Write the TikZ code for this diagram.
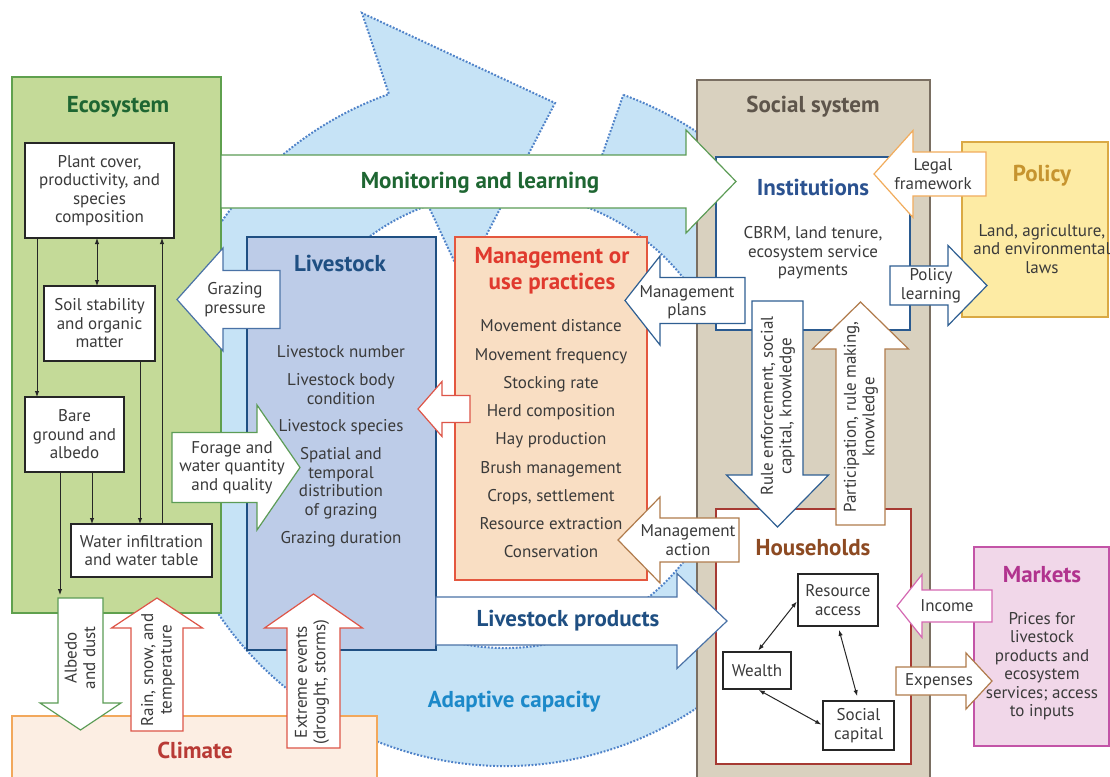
\documentclass[tikz,border=0pt]{standalone}
\usepackage{fontspec}
\setmainfont{PT Sans}
\usetikzlibrary{arrows.meta,calc}
\definecolor{ringfill}{HTML}{C6E3F6}
\definecolor{ringline}{HTML}{4F82C8}
\definecolor{ecofill}{HTML}{C4DA98}
\definecolor{ecoline}{HTML}{5FA04E}
\definecolor{ecotitle}{HTML}{1E6632}
\definecolor{livfill}{HTML}{BDCCE8}
\definecolor{livline}{HTML}{1F4F82}
\definecolor{mgfill}{HTML}{F9DEC3}
\definecolor{mgline}{HTML}{E4573F}
\definecolor{mgtitle}{HTML}{E03A2E}
\definecolor{socfill}{HTML}{D9D1BF}
\definecolor{socline}{HTML}{7A6F62}
\definecolor{soctitle}{HTML}{5E554B}
\definecolor{instline}{HTML}{2A5A90}
\definecolor{insttitle}{HTML}{2B5290}
\definecolor{polfill}{HTML}{FDEBA4}
\definecolor{polline}{HTML}{DAA944}
\definecolor{poltitle}{HTML}{C6942F}
\definecolor{hhline}{HTML}{A63A33}
\definecolor{hhtitle}{HTML}{8D4A22}
\definecolor{mkfill}{HTML}{F1D7E9}
\definecolor{mkline}{HTML}{C354A7}
\definecolor{mktitle}{HTML}{B1338E}
\definecolor{clfill}{HTML}{FCEEE3}
\definecolor{clline}{HTML}{F2A85C}
\definecolor{cltitle}{HTML}{B83A35}
\definecolor{txtc}{HTML}{3A3A3A}
\definecolor{adapt}{HTML}{1C89C9}
\definecolor{agreen}{HTML}{5C9C56}
\definecolor{ablue}{HTML}{4A72A6}
\definecolor{adblue}{HTML}{2F5F92}
\definecolor{ared}{HTML}{DD5548}
\definecolor{abrown}{HTML}{B07B4C}
\definecolor{aorange}{HTML}{F1AC5C}
\definecolor{apink}{HTML}{D468B2}
\newcommand\fsN{\fontsize{17}{18.5}\selectfont}
\newcommand\fsT{\fontsize{23}{26}\selectfont\bfseries}
% horizontal block arrow: style, x tail, x head-back, x tip, y centre, body half, head half
\newcommand\blockH[7]{\draw[barrow,#1] ({#2},{#5-#6}) -- ({#3},{#5-#6}) -- ({#3},{#5-#7}) -- ({#4},{#5}) -- ({#3},{#5+#7}) -- ({#3},{#5+#6}) -- ({#2},{#5+#6}) -- cycle;}
% vertical block arrow: style, y tail, y head-back, y tip, x centre, body half, head half
\newcommand\blockV[7]{\draw[barrow,#1] ({#5-#6},{#2}) -- ({#5-#6},{#3}) -- ({#5-#7},{#3}) -- ({#5},{#4}) -- ({#5+#7},{#3}) -- ({#5+#6},{#3}) -- ({#5+#6},{#2}) -- cycle;}
\tikzset{
 box/.style={draw, line width=1.4pt, anchor=north west, inner sep=0pt, outer sep=0pt},
 wbox/.style={box, fill=white, draw=black!85, line width=1.3pt},
 txt/.style={font=\fsN, align=center, text=txtc, inner sep=0pt},
 ttl/.style={font=\fsT, align=center, inner sep=0pt},
 barrow/.style={fill=white, line width=1.2pt, line join=miter},
 ecoarr/.style={line width=1pt, draw=black!85, -{Latex[length=6pt,width=4.5pt]}},
 ecoarrb/.style={line width=1pt, draw=black!85, {Latex[length=6pt,width=4.5pt]}-{Latex[length=6pt,width=4.5pt]}},
}
\begin{document}
\begin{tikzpicture}[x=1pt,y=-1pt]
\useasboundingbox (0,0) rectangle (1110,776);
\fill[white] (0,0) rectangle (1110,776);
% adaptive capacity ring
\coordinate (ringC) at (505,420);
\path[fill=ringfill, draw=ringline, line width=2pt, dash pattern=on 1.8pt off 1.7pt]
 (ringC) ++(-70:346) arc[start angle=-70, end angle=250.4, radius=346]
 -- (362,13) -- (555,103) -- (463,280) -- ($(ringC)+(250.3:228)$)
 arc[start angle=250.3, end angle=-69.7, radius=228] -- cycle;
\node[font=\fsT, text=adapt, inner sep=0pt] (adaptlbl) at (514,702) {Adaptive capacity};

% main boxes
\node[box, fill=ecofill, draw=ecoline, minimum width=209, minimum height=536] (eco) at (12,77) {};
\node[box, fill=clfill, draw=clline, minimum width=365, minimum height=80] (clim) at (12,716) {};
\node[box, fill=socfill, draw=socline, minimum width=233, minimum height=710] (soc) at (697,80) {};
\node[box, fill=white, draw=instline, minimum width=194, minimum height=173] (inst) at (716,157) {};
\node[box, fill=white, draw=hhline, minimum width=195, minimum height=255] (hh) at (716,509) {};
\node[box, fill=polfill, draw=polline, minimum width=146, minimum height=175] (pol) at (962,142) {};
\node[box, fill=mkfill, draw=mkline, minimum width=135, minimum height=199] (mk) at (974,547) {};
\node[box, fill=livfill, draw=livline, minimum width=189, minimum height=413] (liv) at (247,237) {};
\node[box, fill=mgfill, draw=mgline, minimum width=192, minimum height=343] (mg) at (455,237) {};

% titles
\node[ttl, text=ecotitle] (ecoT) at (118,107) {Ecosystem};
\node[ttl, text=cltitle] (clT) at (195,750) {Climate};
\node[ttl, text=soctitle] (socT) at (813,107) {Social system};
\node[ttl, text=insttitle] (instT) at (813,187) {Institutions};
\node[ttl, text=hhtitle] (hhT) at (813,548) {Households};
\node[ttl, text=poltitle] (polT) at (1042,176) {Policy};
\node[ttl, text=mktitle] (mkT) at (1042,575) {Markets};
\node[ttl, text=livline] (livT) at (340,263) {Livestock};
\node[ttl, text=mgtitle] (mgT) at (552,271) {Management or\\use practices};

% ecosystem inner boxes
\node[wbox, minimum width=149, minimum height=95] (plant) at (25,143) {};
\node[txt] (plantT) at (plant.center) {Plant cover,\\productivity, and\\species\\composition};
\node[wbox, minimum width=111, minimum height=75] (soil) at (44,286) {};
\node[txt] (soilT) at (soil.center) {Soil stability\\and organic\\matter};
\node[wbox, minimum width=99, minimum height=75] (bare) at (25,397) {};
\node[txt] (bareT) at (bare.center) {Bare\\ground and\\albedo};
\node[wbox, minimum width=141, minimum height=53] (water) at (71,524) {};
\node[txt] (waterT) at (water.center) {Water infiltration\\and water table};
\coordinate (c37) at (37,0);
\coordinate (c97) at (97,0);
\coordinate (c162) at (162,0);
\coordinate (c140) at (140,0);
\coordinate (c92) at (92,0);
\coordinate (c60) at (60,0);
\coordinate (e60) at (60,595);
\draw[ecoarr] (plant.south -| c37) -- (bare.north -| c37);
\draw[ecoarrb] (plant.south -| c97) -- (soil.north -| c97);
\draw[ecoarr] (water.north -| c162) -- (plant.south -| c162);
\draw[ecoarr] (soil.south -| c140) -- (water.north -| c140);
\draw[ecoarr] (bare.south -| c92) -- (water.north -| c92);
\draw[ecoarr] (bare.south -| c60) -- (e60);

% livestock items
\node[txt] (l1) at (341,352) {Livestock number};
\node[txt] (l2) at (341,389) {Livestock body\\condition};
\node[txt] (l3) at (341,427) {Livestock species};
\node[txt] (l4) at (341,483) {Spatial and\\temporal\\distribution\\of grazing};
\node[txt] (l5) at (341,539) {Grazing duration};

% management items
\node[txt, font=\fontsize{17}{28.25}\selectfont] (mgL) at (551,439) {Movement distance\\Movement frequency\\Stocking rate\\Herd composition\\Hay production\\Brush management\\Crops, settlement\\Resource extraction\\Conservation};

% institutions / policy / markets text
\node[txt] (instL) at (813,253) {CBRM, land tenure,\\ecosystem service\\payments};
\node[txt] (polL) at (1042,249) {Land, agriculture,\\and environmental\\laws};
\node[txt] (mkL) at (1042,666) {Prices for\\livestock\\products and\\ecosystem\\services; access\\to inputs};

% household boxes
\node[wbox, minimum width=80, minimum height=52] (res) at (798,574) {};
\node[txt] (resT) at (res.center) {Resource\\access};
\node[wbox, minimum width=68, minimum height=37] (wea) at (723,652) {};
\node[txt] (weaT) at (wea.center) {Wealth};
\node[wbox, minimum width=71, minimum height=49] (sc) at (823,701) {};
\node[txt] (scT) at (sc.center) {Social\\capital};
\draw[ecoarrb, shorten <=2pt, shorten >=2pt] (res.west) -- (wea.north);
\draw[ecoarrb, shorten <=4pt, shorten >=5pt] (res.south) -- (sc.north);
\draw[ecoarrb, shorten <=2pt, shorten >=2pt] (wea.south) -- (sc.west);

% block arrows
\blockH{draw=agreen}{221}{686}{736}{181.5}{26.5}{51.5}
\node[ttl, text=ecotitle] (monT) at (480,183) {Monitoring and learning};
\blockH{draw=ablue}{280}{223}{177}{299.5}{29}{51.5}
\node[txt] (grzT) at (235,299.5) {Grazing\\pressure};
\blockH{draw=agreen}{172}{257}{300}{467.5}{35}{62.5}
\node[txt] (forT) at (232,467.5) {Forage and\\water quantity\\and quality};
\blockH{draw=ared}{470}{442}{418}{409}{13.5}{27.5}
\blockH{draw=adblue}{745}{660}{625}{300.5}{23}{44.5}
\node[txt] (mpT) at (687,302) {Management\\plans};
\blockH{draw=abrown}{739}{660}{618}{540}{22}{43}
\node[txt] (maT) at (688,540) {Management\\action};
\blockH{draw=ablue}{436}{677}{727}{621}{24}{47.5}
\node[ttl, text=livline] (lpT) at (568,621) {Livestock products};
\blockH{draw=aorange}{986}{913}{874}{174}{22}{43.5}
\node[txt] (lfT) at (933,174) {Legal\\framework};
\blockH{draw=adblue}{890}{948}{987}{285.5}{19.5}{40}
\node[txt] (plT) at (931,286) {Policy\\learning};
\blockH{draw=apink}{992}{922}{897}{606}{16}{31.5}
\node[txt] (incT) at (947,606) {Income};
\blockH{draw=abrown}{896}{966}{992}{681}{14}{28}
\node[txt] (expT) at (939,681) {Expenses};
\blockV{draw=adblue}{301}{475}{527}{777.5}{25.5}{51}
\node[txt, rotate=90] (reT) at (778,406) {Rule enforcement, social\\capital, knowledge};
\blockV{draw=abrown}{525}{349}{302}{860.5}{24.5}{48}
\node[txt, rotate=90] (paT) at (861,417) {Participation, rule making,\\knowledge};
\blockV{draw=agreen}{598}{703}{730}{80.5}{22.5}{40.5}
\node[txt, rotate=90] (alT) at (80,658) {Albedo\\and dust};
\blockV{draw=ared}{731}{628}{598}{157}{26}{45.5}
\node[txt, rotate=90] (raT) at (158,670) {Rain, snow, and\\temperature};
\blockV{draw=ared}{748}{628}{594}{313.5}{26.5}{49}
\node[txt, rotate=90] (exT) at (312,682) {Extreme events\\(drought, storms)};
\end{tikzpicture}
\end{document}
